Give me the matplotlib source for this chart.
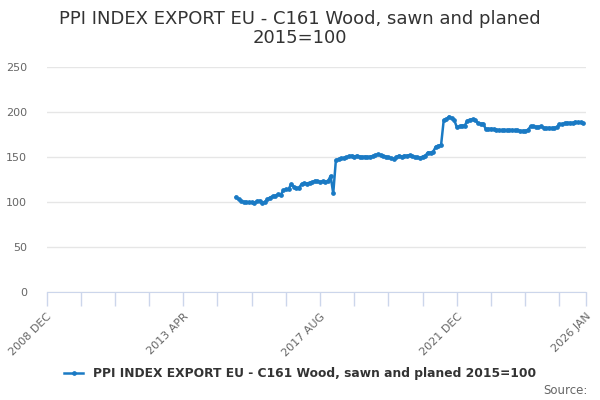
import matplotlib
matplotlib.use("Agg")
import matplotlib.pyplot as plt
import pandas as pd

# monthly categories on the x axis, 2008 DEC .. 2026 JAN
months = [p.strftime("%Y %b").upper() for p in pd.period_range("2008-12", "2026-01", freq="M")]
first_month = "2014 DEC"

# PPI index values, 2014 DEC .. 2025 DEC
ppi = [
    105.5, 103, 101, 100, 100, 99.5, 99.5, 99, 101, 101.5, 98.5, 100,
    103, 105, 106.5, 107, 108.5, 107.5, 113, 114, 114, 120, 117, 115.5,
    116, 120, 121, 120.5, 121.5, 122, 123.5, 123, 122.5, 123, 122.5, 123,
    129, 109.5, 146.5, 147.5, 148.5, 149, 149.5, 151, 151.5, 150.5, 151.5, 150.5,
    150, 150.5, 150, 150.5, 151, 152, 153, 152, 151, 150.5, 149.5, 148.5,
    148, 150, 151.5, 150.5, 151.5, 151.5, 152, 151, 150, 149.5, 149, 150.5,
    151.5, 155, 155, 156, 161.5, 162.5, 163.5, 191, 192, 195, 193, 191,
    183, 184, 185, 185, 190.5, 191.5, 192, 191, 187.5, 187, 187, 181,
    181, 181.5, 181, 180.5, 180, 179.5, 180, 179.5, 180, 180, 179.5, 180,
    179, 179, 179, 180, 184, 184, 183.5, 183.5, 184, 182.5, 182, 182.5,
    182, 182.5, 183, 186.5, 186.5, 187.5, 188, 188, 188, 189, 188.5, 188.5,
    187.5,
]
label_months = ["2008 DEC", "2013 APR", "2017 AUG", "2021 DEC", "2026 JAN"]
series_name = "PPI INDEX EXPORT EU - C161 Wood, sawn and planed 2015=100"

start = months.index(first_month)
xs = list(range(start, start + len(ppi)))

fig = plt.figure(figsize=(6, 4), dpi=100)
ax = fig.add_axes([0.0775, 0.27, 0.8988, 0.5625])

ax.plot(xs, ppi, color="#1a7ac4", lw=1.8, marker="o", ms=2.4, mec="#1a7ac4",
        label=series_name)

ax.set_xlim(0, len(months) - 1)
ax.set_ylim(0, 250)
ax.set_yticks(range(0, 251, 50))
ax.grid(axis="y", color="#e6e6e6", lw=1)
ax.set_axisbelow(True)

major = [months.index(m) for m in label_months]
minor = list(range(0, len(months), 13)) + [len(months) - 1]
ax.set_xticks(major)
ax.set_xticklabels(label_months, rotation=45, ha="right", va="top",
                   rotation_mode="anchor")
ax.set_xticks(minor, minor=True)
ax.tick_params(axis="x", which="both", direction="out", length=10, width=1,
               color="#ccd6eb", labelsize=8, labelcolor="#666666", pad=4)
ax.tick_params(axis="y", length=0, labelsize=8, labelcolor="#666666", pad=14)

for s in ["top", "right", "left"]:
    ax.spines[s].set_visible(False)
ax.spines["bottom"].set_color("#ccd6eb")

fig.text(0.5, 0.975, "PPI INDEX EXPORT EU - C161 Wood, sawn and planed\n2015=100",
         ha="center", va="top", fontsize=13, color="#333333", linespacing=1.1)

fig.legend(loc="center", bbox_to_anchor=(0.5, 1 - 374 / 400), frameon=False,
           prop={"weight": "bold", "size": 8.8}, handlelength=1.6, labelcolor="#333333")
fig.text(0.98, 1 - 390 / 400, "Source:", ha="right", va="center", fontsize=8.5,
         color="#666666")

fig.savefig("out.png", dpi=100)
